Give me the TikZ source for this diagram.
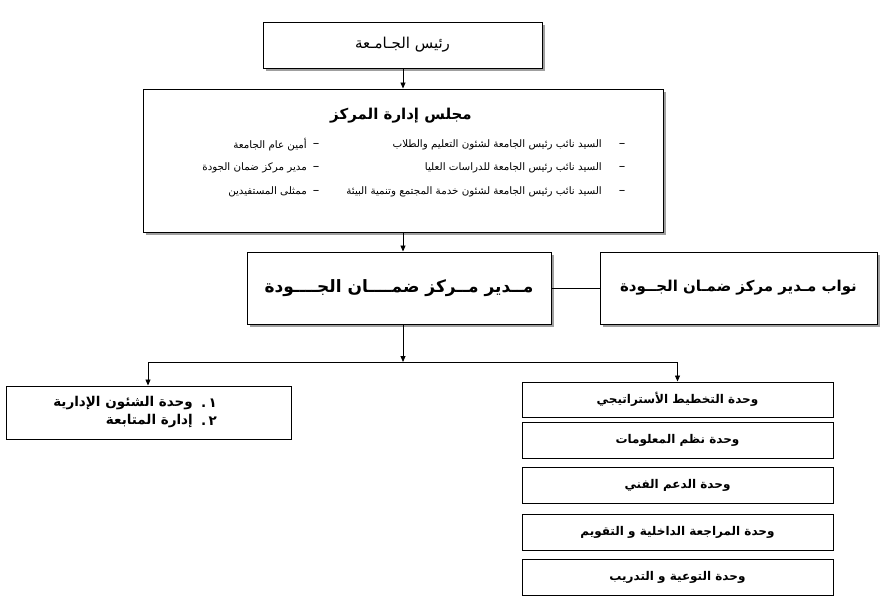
\documentclass[tikz,border=0pt]{standalone}
\usepackage{fontspec}
\usetikzlibrary{arrows.meta,shadows}
\TeXXeTstate=1
\newfontfamily\arfont[Script=Arabic]{DejaVu Sans}
\newfontfamily\arbold[Script=Arabic]{DejaVu Sans Bold}
\newcommand{\artxt}[1]{{\arfont\beginR #1\endR}}
\newcommand{\arbtxt}[1]{{\arbold\beginR #1\endR}}
\tikzset{
  box/.style={draw, line width=1pt, fill=white, inner sep=0pt, align=center},
  shbox/.style={box, drop shadow={shadow xshift=3pt, shadow yshift=-3pt, fill=gray!75, opacity=1}},
  conn/.style={line width=0.8pt},
  arr/.style={conn, -{Triangle[length=6pt,width=5pt]}},
  small/.style={font=\fontsize{10.3}{12}\selectfont, inner sep=0pt},
  dashmark/.style={font=\fontsize{13}{14}\selectfont, inner sep=0pt},
}
\begin{document}
\begin{tikzpicture}[x=1pt,y=-1pt]
\fill[white] (0,0) rectangle (892,608);
\useasboundingbox (0,0) rectangle (892,608);
% boxes
\node[shbox, minimum width=279pt, minimum height=46pt, font=\fontsize{15}{18}\selectfont] (top) at (402.5,45) {\artxt{رئيس الجـامـعة}};
\node[shbox, minimum width=520pt, minimum height=143pt] (council) at (403,160.5) {};
\node[shbox, minimum width=304pt, minimum height=72pt, font=\fontsize{17}{20}\selectfont] (director) at (399,288) {\arbtxt{مــدير مــركز ضمــــان الجــــودة}};
\node[shbox, minimum width=277pt, minimum height=72pt, font=\fontsize{15}{18}\selectfont] (deputies) at (738.5,288) {\arbtxt{نواب مـدير مركز ضمـان الجــودة}};
\node[box, minimum width=285pt, minimum height=53pt] (leftbox) at (148.5,412.5) {};
\tikzset{unit/.style={box, minimum width=311pt, minimum height=36pt, font=\fontsize{12}{15}\selectfont}}
\node[unit, minimum height=35pt] (u1) at (677.5,399.5) {\arbtxt{وحدة التخطيط الأستراتيجي}};
\node[unit] (u2) at (677.5,440) {\arbtxt{وحدة نظم المعلومات}};
\node[unit] (u3) at (677.5,485) {\arbtxt{وحدة الدعم الفني}};
\node[unit] (u4) at (677.5,532) {\arbtxt{وحدة المراجعة الداخلية و التقويم}};
\node[unit] (u5) at (677.5,577) {\arbtxt{وحدة التوعية و التدريب}};
% council contents
\node[font=\fontsize{15}{18}\selectfont, inner sep=0pt] (ctitle) at (401,116) {\arbtxt{مجلس إدارة المركز}};
\node[dashmark] (d1) at (622,145) {\arfont –};
\node[dashmark] (d2) at (622,168) {\arfont –};
\node[dashmark] (d3) at (622,192) {\arfont –};
\node[small, anchor=east] (l1) at (602,145) {\artxt{السيد نائب رئيس الجامعة لشئون التعليم والطلاب}};
\node[small, anchor=east] (l2) at (602,168) {\artxt{السيد نائب رئيس الجامعة للدراسات العليا}};
\node[small, anchor=east] (l3) at (602,192) {\artxt{السيد نائب رئيس الجامعة لشئون خدمة المجتمع وتنمية البيئة}};
\node[dashmark] (e1) at (316,145) {\arfont –};
\node[dashmark] (e2) at (316,168) {\arfont –};
\node[dashmark] (e3) at (316,192) {\arfont –};
\node[small, anchor=east] (r1) at (307,145) {\artxt{أمين عام الجامعة}};
\node[small, anchor=east] (r2) at (307,168) {\artxt{مدير مركز ضمان الجودة}};
\node[small, anchor=east] (r3) at (307,192) {\artxt{ممثلى المستفيدين}};
% left box contents
\tikzset{lb/.style={font=\fontsize{13.5}{16}\selectfont, inner sep=0pt}}
\node[lb] (n1) at (209,403) {\arbold .\,١};
\node[lb] (n2) at (209,421) {\arbold .\,٢};
\node[lb, anchor=east] (t1) at (193,403) {\arbtxt{وحدة الشئون الإدارية}};
\node[lb, anchor=east] (t2) at (193,421) {\arbtxt{إدارة المتابعة}};
% connectors
\coordinate (jc) at (403,362);
\coordinate (jl) at (148,362);
\coordinate (jr) at (677.5,362);
\draw[arr] (top.south -| council.north) -- (council.north);
\draw[arr] (council.south) -- (council.south |- director.north);
\draw[conn] (director.east) -- (deputies.west);
\draw[arr] (council.south |- director.south) -- (jc);
\draw[conn] (jl) -- (jr);
\draw[arr] (jl) -- (jl |- leftbox.north);
\draw[arr] (jr) -- (u1.north);
\end{tikzpicture}
\end{document}
